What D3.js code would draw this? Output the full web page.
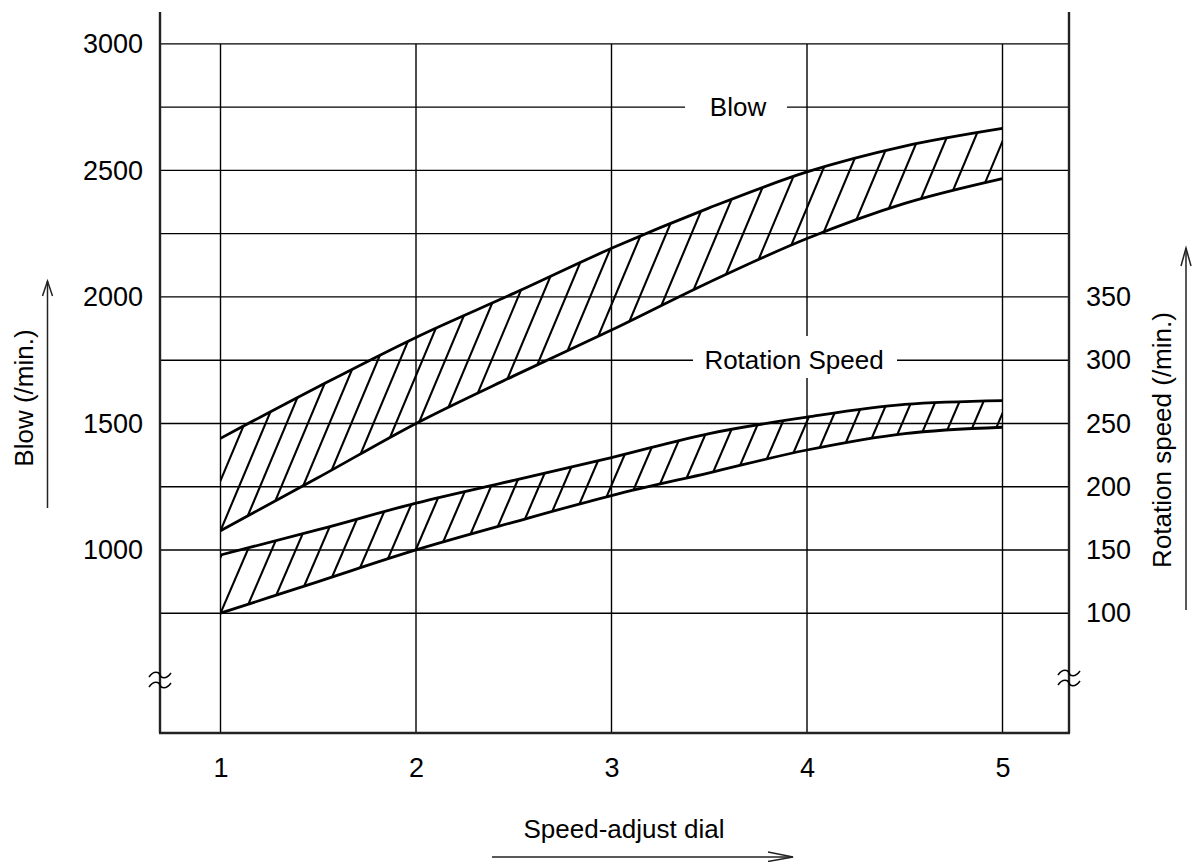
<!DOCTYPE html>
<html>
<head>
<meta charset="utf-8">
<script src="https://cdn.jsdelivr.net/npm/d3@7"></script>
<style>
  html, body { margin: 0; padding: 0; background: #fff; }
  svg { display: block; }
  text { font-family: "Liberation Sans", Arial, sans-serif; fill: #000; }
</style>
</head>
<body>
<div id="chart"></div>
<script>
// ---- data ----
const dial = [1, 1.5, 2, 2.5, 3, 3.5, 4, 4.5, 5];
const blowUpper = [1441, 1645, 1840, 2014, 2192, 2352, 2494, 2596, 2666];
const blowLower = [1076, 1286, 1500, 1688, 1869, 2058, 2231, 2370, 2468];
const rotUpper = [146, 166, 187, 205, 223, 242, 255, 265, 268];
const rotLower = [100, 125, 150, 172, 193, 211, 229, 242, 247];
const dialTicks = [1, 2, 3, 4, 5];
const blowTicks = [1000, 1500, 2000, 2500, 3000];
const rotTicks = [100, 150, 200, 250, 300, 350];
const gridValues = [750, 1000, 1250, 1500, 1750, 2000, 2250, 2500, 2750, 3000];

const W = 1193, H = 862;
const svg = d3.select("#chart").append("svg").attr("width", W).attr("height", H);

const axL = 160, axR = 1069, axTop = 12, axBottom = 733;
const x = d3.scaleLinear().domain([1, 5]).range([220.5, 1002.5]);
const yL = d3.scaleLinear().domain([750, 3000]).range([613.2, 43.9]);
// rotation speed r corresponds to blow 5r + 250
const yR = d3.scaleLinear().domain([100, 350]).range([yL(750), yL(2000)]);

// ---- grid ----
const grid = svg.append("g").attr("stroke", "#000").attr("stroke-width", 1.4);
gridValues.forEach(v => {
  grid.append("line").attr("x1", axL).attr("x2", axR).attr("y1", yL(v)).attr("y2", yL(v));
});
dialTicks.forEach(d => {
  grid.append("line").attr("x1", x(d)).attr("x2", x(d)).attr("y1", yL(3000)).attr("y2", axBottom);
});

// ---- axes (labels via d3 axes) ----
const fs = 26, tfs = 27;
const gL = svg.append("g").attr("transform", `translate(${axL},0)`)
  .call(d3.axisLeft(yL).tickValues(blowTicks).tickSize(0).tickPadding(17).tickFormat(d3.format("d")));
const gR = svg.append("g").attr("transform", `translate(${axR},0)`)
  .call(d3.axisRight(yR).tickValues(rotTicks).tickSize(0).tickPadding(17).tickFormat(d3.format("d")));
const gB = svg.append("g").attr("transform", `translate(0,${axBottom})`)
  .call(d3.axisBottom(x).tickValues(dialTicks).tickSize(0).tickPadding(25).tickFormat(d3.format("d")));
[gL, gR, gB].forEach(g => {
  g.select(".domain").remove();
  g.selectAll("text").attr("font-size", tfs).attr("font-family", "Liberation Sans, Arial, sans-serif").attr("fill", "#000");
});

const axes = svg.append("g").attr("stroke", "#222").attr("stroke-width", 2.4).attr("fill", "none");
axes.append("line").attr("x1", axL).attr("x2", axL).attr("y1", axTop).attr("y2", axBottom);
axes.append("line").attr("x1", axR).attr("x2", axR).attr("y1", axTop).attr("y2", axBottom);
axes.append("line").attr("x1", axL - 1).attr("x2", axR + 1).attr("y1", axBottom).attr("y2", axBottom);

// break marks
function squiggle(cx, cy) {
  [-5, 5].forEach(dy => {
    const y0 = cy + dy;
    svg.append("path")
      .attr("d", `M${cx - 11},${y0 + 2} C${cx - 6},${y0 - 5} ${cx - 1},${y0 - 3} ${cx},${y0} S${cx + 6},${y0 + 5} ${cx + 11},${y0 - 2}`)
      .attr("fill", "none").attr("stroke", "#000").attr("stroke-width", 1.5);
  });
}
squiggle(axL, 680);
squiggle(axR, 678);

// ---- series labels with white gaps ----
svg.append("rect").attr("x", 685).attr("y", 84).attr("width", 102).attr("height", 36).attr("fill", "#fff");
svg.append("rect").attr("x", 693).attr("y", 336).attr("width", 204).attr("height", 42).attr("fill", "#fff");
svg.append("text").attr("x", 738).attr("y", yL(2750)).attr("dy", "0.35em").attr("text-anchor", "middle")
  .attr("font-size", fs).text("Blow");
svg.append("text").attr("x", 794).attr("y", yL(1750)).attr("dy", "0.35em").attr("text-anchor", "middle")
  .attr("font-size", fs).text("Rotation Speed");

// ---- bands ----
function band(id, upper, lower, yS, k, stepFn) {
  const pts = dial.map((d, i) => ({ d, u: upper[i], l: lower[i] }));
  const area = d3.area().x(p => x(p.d)).y0(p => yS(p.l)).y1(p => yS(p.u)).curve(d3.curveMonotoneX);
  svg.append("clipPath").attr("id", id).append("path").attr("d", area(pts));
  const xc = x(dial[0]), yc = yS(lower[0]);
  const yTopBand = d3.min(upper, v => yS(v)) - 20;
  const yBotBand = d3.max(lower, v => yS(v)) + 20;
  const cs = [];
  let c = xc;
  const cmin = xc - k * (yc - yS(upper[0])) - 5;
  while (c > cmin) { c -= stepFn(c); if (c > cmin) cs.push(c); }
  c = xc;
  while (c < x(5) + 10) { cs.push(c); c += stepFn(c); }
  const g = svg.append("g").attr("clip-path", `url(#${id})`).attr("stroke", "#000").attr("stroke-width", 2.1);
  cs.forEach(c0 => {
    g.append("line")
      .attr("x1", c0 - k * (yBotBand - yc)).attr("y1", yBotBand)
      .attr("x2", c0 + k * (yc - yTopBand)).attr("y2", yTopBand);
  });
  const line = d3.line().x(p => x(p.d)).curve(d3.curveMonotoneX);
  svg.append("path").attr("d", line.y(p => yS(p.u))(pts))
    .attr("fill", "none").attr("stroke", "#000").attr("stroke-width", 2.8);
  svg.append("path").attr("d", line.y(p => yS(p.l))(pts))
    .attr("fill", "none").attr("stroke", "#000").attr("stroke-width", 2.8);
}
band("clipBlow", blowUpper, blowLower, yL, 0.42, c => 21 + 8 * Math.max(0, Math.min(1, (c - 220) / 600)));
band("clipRot", rotUpper, rotLower, yR, 0.43, c => 24);

// ---- axis titles and arrows ----
svg.append("text").attr("transform", "translate(24,398) rotate(-90)").attr("text-anchor", "middle")
  .attr("dy", "0.35em").attr("font-size", fs).text("Blow (/min.)");
svg.append("text").attr("transform", "translate(1162,440) rotate(-90)").attr("text-anchor", "middle")
  .attr("dy", "0.35em").attr("font-size", fs).text("Rotation speed (/min.)");
svg.append("text").attr("x", 624).attr("y", 838).attr("text-anchor", "middle")
  .attr("font-size", fs).text("Speed-adjust dial");

const arr = svg.append("g").attr("stroke", "#222").attr("stroke-width", 1.5).attr("fill", "none");
arr.append("line").attr("x1", 47.5).attr("x2", 47.5).attr("y1", 508).attr("y2", 281);
arr.append("path").attr("d", "M42.5,296 L47.5,281 L52.5,296");
arr.append("line").attr("x1", 1186).attr("x2", 1186).attr("y1", 610).attr("y2", 248);
arr.append("path").attr("d", "M1181,266 L1186,248 L1191,266");
arr.append("line").attr("x1", 492).attr("x2", 793).attr("y1", 857).attr("y2", 857);
arr.append("path").attr("d", "M768,852 L793,857 L768,861.5");
</script>
</body>
</html>
